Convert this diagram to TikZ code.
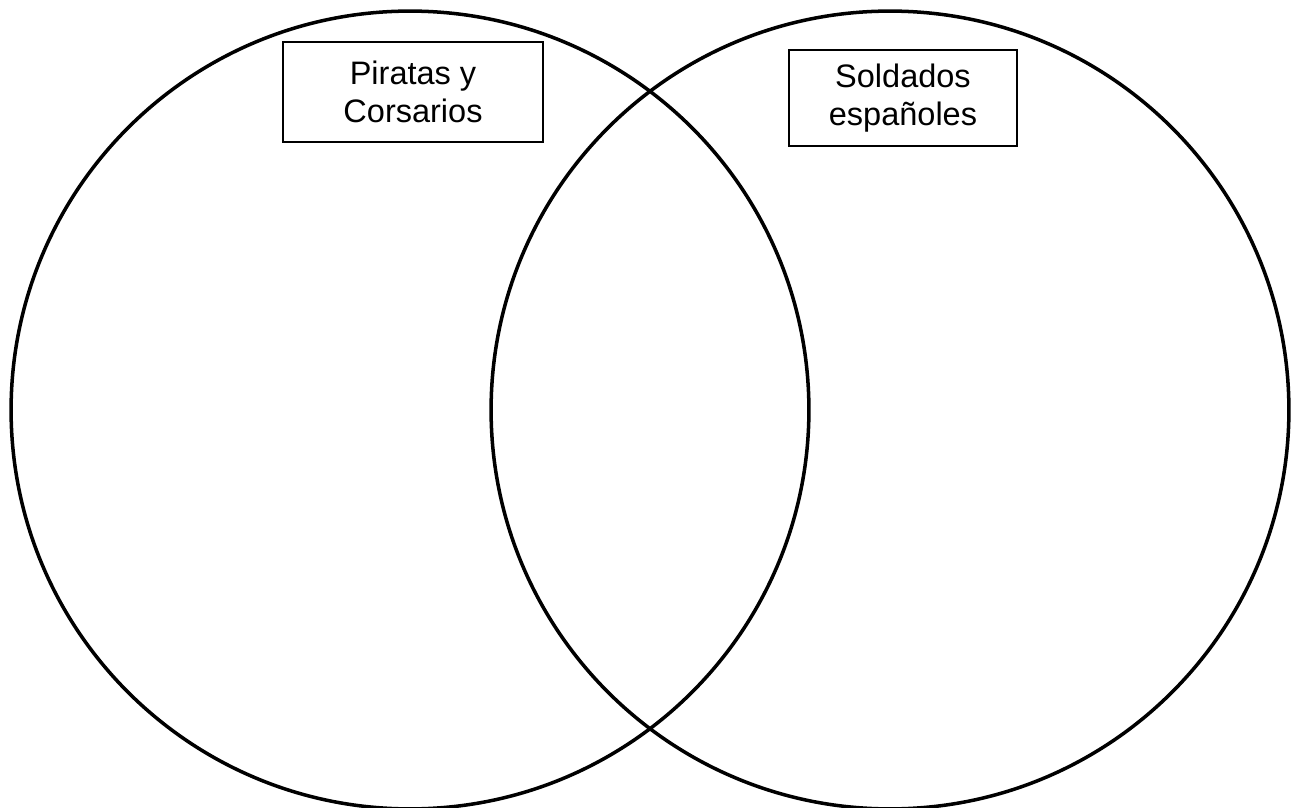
\documentclass[tikz,border=0pt]{standalone}
\usepackage{fontspec}
\setmainfont{Liberation Sans}
\begin{document}
\begin{tikzpicture}[x=0.02cm, y=-0.02cm, line width=2pt,
    set/.style={draw, circle, minimum size=15.96cm, inner sep=0pt},
    label box/.style={draw, line width=1.2pt, align=center, inner sep=0pt,
      font=\fontsize{18.5}{21.5}\selectfont}]
    \useasboundingbox (0,0) rectangle (1292,808);
    \node[set] (left) at (410,410) {};
    \node[set] (right) at (890,410) {};
    \node[label box, minimum width=5.2cm, minimum height=2cm] (piratas) at (413,92) {Piratas y\\Corsarios};
    \node[label box, minimum width=4.56cm, minimum height=1.92cm] (soldados) at (903,98) {Soldados\\españoles};
  \end{tikzpicture}
\end{document}
